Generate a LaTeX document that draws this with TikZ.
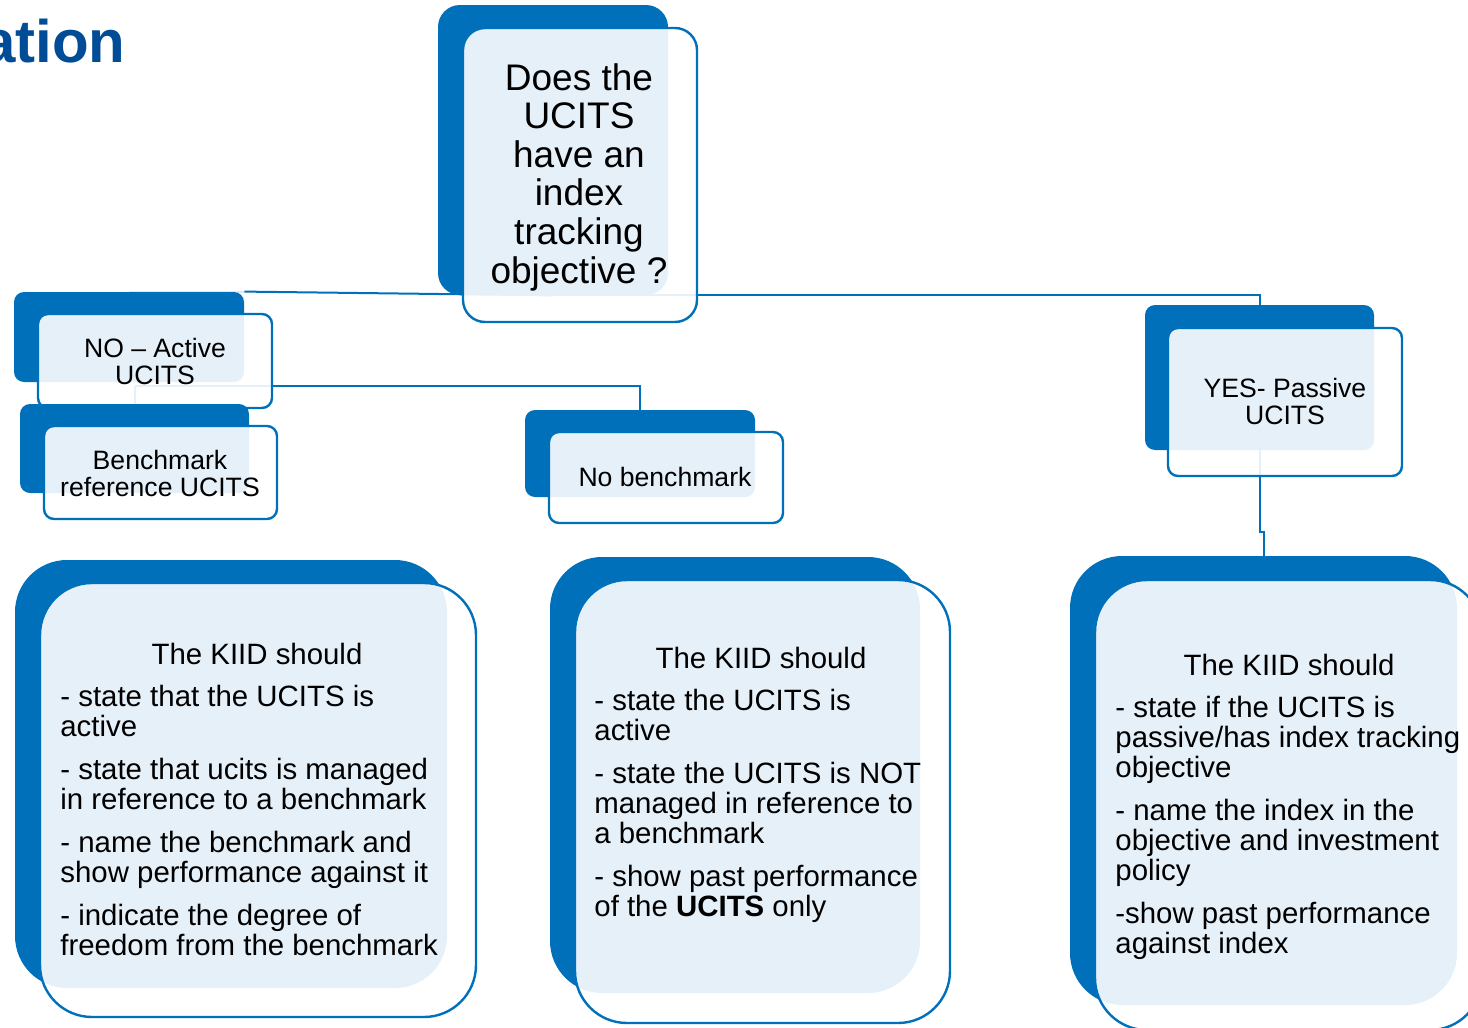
\documentclass[tikz,border=0pt]{standalone}
\usepackage{fontspec}
\setmainfont{Liberation Sans}
\usetikzlibrary{fit,backgrounds}
\definecolor{ublue}{HTML}{0070BA}
\definecolor{utitle}{HTML}{004C97}
\tikzset{
  darkbox/.style={fill=ublue, draw=none, inner sep=0pt},
  frontbox/.style={fill=white, fill opacity=0.9, draw=ublue, draw opacity=1, line width=1.2pt, inner sep=0pt},
  conn/.style={draw=ublue, line width=1pt},
  faintconn/.style={draw=ublue!15, line width=1pt},
  smalltext/.style={font=\fontsize{13.3}{13.5}\selectfont, align=center, inner sep=0pt},
  bigtext/.style={font=\fontsize{18.5}{19.3}\selectfont, align=center, inner sep=0pt},
  kiidhead/.style={font=\fontsize{14.7}{15}\selectfont, inner sep=0pt},
  kiidbody/.style={font=\fontsize{14.7}{15}\selectfont, align=left, inner sep=0pt},
}
\begin{document}
\begin{tikzpicture}[x=0.5pt,y=-0.5pt]
\useasboundingbox (0,0) rectangle (1468,1028);
\clip (0,0) rectangle (1468,1028);

% title fragment
\node[anchor=base east, inner sep=0pt, text=utitle, font=\fontsize{30}{36}\selectfont\bfseries] (title) at (126,62) {ation};

% question box
\node[darkbox, rounded corners=11pt, fit={(438,5)(668,295)}] (qd) {};
\node[frontbox, rounded corners=11pt, fit={(463,28)(697,322)}] (qf) {};
\node[bigtext] (qt) at (579,177) {Does the\\UCITS\\have an\\index\\tracking\\objective ?};

% NO box
\node[darkbox, rounded corners=5pt, fit={(14,292)(244,382)}] (nd) {};
\node[frontbox, rounded corners=5pt, fit={(38,314)(272,408)}] (nf) {};
\node[smalltext] (nt) at (155,361) {NO -- Active\\UCITS};

% Benchmark reference box
\node[darkbox, rounded corners=5pt, fit={(20,404)(249,493)}] (bd) {};
\node[frontbox, rounded corners=5pt, fit={(44,426)(277,519)}] (bf) {};
\node[smalltext] (bt) at (160,473) {Benchmark\\reference UCITS};

% No benchmark box
\node[darkbox, rounded corners=5pt, fit={(525,410)(755,497)}] (md) {};
\node[frontbox, rounded corners=5pt, fit={(549,432)(783,523)}] (mf) {};
\node[smalltext] (mt) at (665,477) {No benchmark};

% YES box
\node[darkbox, rounded corners=5pt, fit={(1145,305)(1374,450)}] (yd) {};
\node[frontbox, rounded corners=5pt, fit={(1168,328)(1402,476)}] (yf) {};
\node[smalltext] (yt) at (1285,401) {YES- Passive\\UCITS};

% bottom left
\node[darkbox, rounded corners=26pt, fit={(15,560)(447,988)}] (ld) {};
\node[frontbox, rounded corners=26pt, fit={(40,583)(476,1017)}] (lf) {};
\node[kiidhead, anchor=base] (lh) at (257,664) {The KIID should};
\node[kiidbody, anchor=base west] (lb) at (60,955) {- state that the UCITS is\\active\\[6.5pt]- state that ucits is managed\\in reference to a benchmark\\[6.5pt]- name the benchmark and\\show performance against it\\[6.5pt]- indicate the degree of\\freedom from the benchmark};

% bottom middle
\node[darkbox, rounded corners=26pt, fit={(550,557)(920,993)}] (cd) {};
\node[frontbox, rounded corners=26pt, fit={(575,580)(950,1023)}] (cf) {};
\node[kiidhead, anchor=base] (ch) at (761,668) {The KIID should};
\node[kiidbody, anchor=base west] (cb) at (594,916) {- state the UCITS is\\active\\[6.5pt]- state the UCITS is NOT\\managed in reference to\\a benchmark\\[6.5pt]- show past performance\\of the \textbf{UCITS} only};

% bottom right
\node[darkbox, rounded corners=26pt, fit={(1070,556)(1457,1005)}] (rd) {};
\node[frontbox, rounded corners=26pt, fit={(1095,580)(1482,1030)}] (rf) {};
\node[kiidhead, anchor=base] (rh) at (1289,675) {The KIID should};
\node[kiidbody, anchor=base west] (rb) at (1115,953) {- state if the UCITS is\\passive/has index tracking\\objective\\[6.5pt]- name the index in the\\objective and investment\\policy\\[6.5pt]-show past performance\\against index};

% connectors (behind the boxes)
\coordinate (nbend) at (640,386);
\coordinate (yjog) at (1262,532);
\begin{scope}[on background layer]
  \draw[conn] (qd.south) -- (nd.north east);
  \draw[faintconn] (nd.north east) -- (nd.north);
  \draw[conn] (qd.south) -- (qd.south -| yd.north) -- (yd.north);
  \draw[conn] (bd.north |- nbend) -- (nbend) -- (md.north);
  \draw[conn] (bd.north |- nbend) -- (bd.north);
  \draw[conn] (yd.south) -- (yd.south |- yjog) -- (rd.north |- yjog) -- (rd.north);
\end{scope}
\end{tikzpicture}
\end{document}
